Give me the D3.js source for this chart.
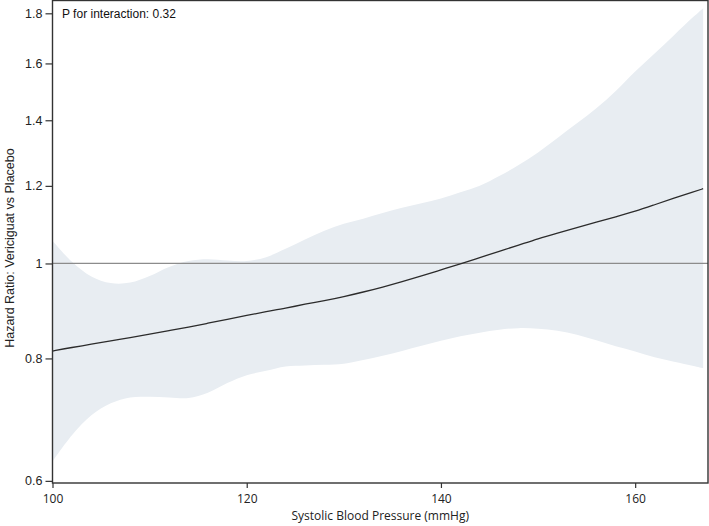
<!DOCTYPE html>
<html>
<head>
<meta charset="utf-8">
<script src="https://cdn.jsdelivr.net/npm/d3@7"></script>
<style>
  html, body { margin: 0; padding: 0; background: #fff; }
  svg { display: block; }
</style>
</head>
<body>
<svg id="chart" width="709" height="526"></svg>
<script>
// ---- Data ----
const sbp = [100,102,104,106,108,110,112,114,116,118,120,122,124,126,128,130,132,134,136,138,140,142,144,146,148,150,152,154,156,158,160,162,164,166,167];
const hrEstimate = [0.814,0.821,0.827,0.834,0.840,0.847,0.854,0.861,0.869,0.877,0.885,0.893,0.900,0.909,0.916,0.925,0.935,0.946,0.958,0.971,0.985,0.999,1.014,1.029,1.044,1.060,1.074,1.088,1.102,1.116,1.130,1.148,1.166,1.183,1.192];
const hrUpper = [1.055,1.004,0.970,0.955,0.956,0.971,0.992,1.006,1.010,1.007,1.006,1.015,1.035,1.058,1.080,1.098,1.111,1.126,1.140,1.152,1.165,1.182,1.200,1.228,1.260,1.298,1.343,1.390,1.440,1.500,1.570,1.638,1.710,1.785,1.822];
const hrLower = [0.628,0.668,0.700,0.720,0.730,0.731,0.730,0.729,0.738,0.755,0.769,0.777,0.785,0.787,0.788,0.790,0.797,0.805,0.814,0.824,0.834,0.843,0.850,0.856,0.859,0.858,0.854,0.846,0.835,0.823,0.813,0.802,0.794,0.786,0.782];
const xTicks = [100,120,140,160];
const yTicks = [0.6,0.8,1,1.2,1.4,1.6,1.8];
const referenceHR = 1;
const xTitle = "Systolic Blood Pressure (mmHg)";
const yTitle = "Hazard Ratio: Vericiguat vs Placebo";
const annotation = "P for interaction: 0.32";

// ---- Layout ----
const svg = d3.select("#chart");
const plotL = 52.5, plotR = 708, plotT = 0.5, plotB = 483;

const x = d3.scaleLinear().domain([100, 167.5]).range([plotL, plotR]);
const y = d3.scaleLog().domain([0.597, 1.855]).range([plotB, plotT]);

const data = sbp.map((v, i) => ({ x: v, est: hrEstimate[i], lo: hrLower[i], hi: hrUpper[i] }));

// Confidence band
svg.append("path")
  .datum(data)
  .attr("fill", "#e8edf2")
  .attr("d", d3.area()
    .x(d => x(d.x))
    .y0(d => y(d.lo))
    .y1(d => y(d.hi))
    .curve(d3.curveCatmullRom.alpha(0.5)));

// Reference line at HR = 1
svg.append("line")
  .attr("x1", plotL).attr("x2", plotR)
  .attr("y1", y(referenceHR)).attr("y2", y(referenceHR))
  .attr("stroke", "#8c8c8c").attr("stroke-width", 1.3);

// Estimate line
svg.append("path")
  .datum(data)
  .attr("fill", "none")
  .attr("stroke", "#2b2b2b")
  .attr("stroke-width", 1.3)
  .attr("d", d3.line()
    .x(d => x(d.x))
    .y(d => y(d.est))
    .curve(d3.curveBasis));

// Frame
svg.append("rect")
  .attr("x", plotL).attr("y", plotT)
  .attr("width", plotR - plotL).attr("height", plotB - plotT)
  .attr("fill", "none").attr("stroke", "#333").attr("stroke-width", 1.4);

// Y axis
const yAxis = svg.append("g")
  .attr("transform", `translate(${plotL},0)`)
  .call(d3.axisLeft(y).tickValues(yTicks).tickFormat(d3.format("~g")).tickSize(7).tickPadding(3));
yAxis.select(".domain").remove();
yAxis.selectAll(".tick line").attr("stroke", "#333").attr("stroke-width", 1.2);
yAxis.selectAll(".tick text")
  .attr("fill", "#222")
  .style("font-family", "'Liberation Sans', Arial, sans-serif")
  .style("font-size", "12.5px");

// X axis
const xAxis = svg.append("g")
  .attr("transform", `translate(0,${plotB})`)
  .call(d3.axisBottom(x).tickValues(xTicks).tickFormat(d3.format("d")).tickSize(5).tickPadding(6));
xAxis.select(".domain").remove();
xAxis.selectAll(".tick line").attr("stroke", "#333").attr("stroke-width", 1.2);
xAxis.selectAll(".tick text")
  .attr("fill", "#222")
  .style("font-family", "'Open Sans', 'Noto Sans', sans-serif")
  .style("font-size", "12px");

// Axis titles
svg.append("text")
  .attr("x", (plotL + plotR) / 2)
  .attr("y", 520)
  .attr("text-anchor", "middle")
  .attr("fill", "#222")
  .style("font-family", "'Open Sans', 'Noto Sans', sans-serif")
  .style("font-size", "12px")
  .text(xTitle);

svg.append("text")
  .attr("transform", `translate(14,248) rotate(-90)`)
  .attr("text-anchor", "middle")
  .attr("fill", "#222")
  .style("font-family", "'Liberation Sans', Arial, sans-serif")
  .style("font-size", "12.5px")
  .text(yTitle);

// Annotation
svg.append("text")
  .attr("x", 62)
  .attr("y", 18)
  .attr("fill", "#111")
  .style("font-family", "'Liberation Sans', Arial, sans-serif")
  .style("font-size", "12px")
  .text(annotation);
</script>
</body>
</html>
